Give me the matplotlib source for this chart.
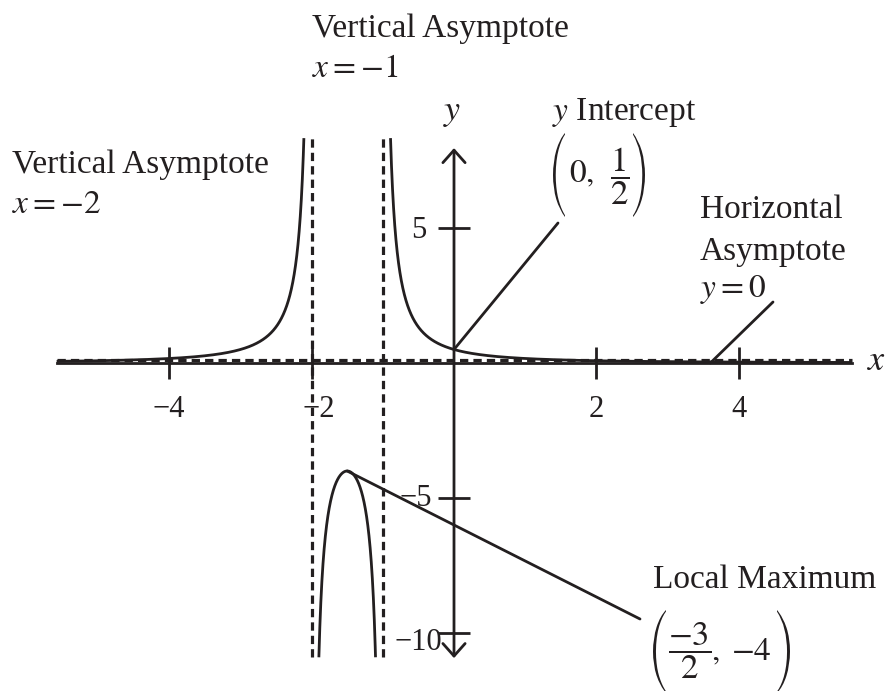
import numpy as np
import matplotlib
matplotlib.use("Agg")
import matplotlib.pyplot as plt
import matplotlib.transforms as mtransforms
from matplotlib.textpath import TextPath
from matplotlib.patches import PathPatch
from matplotlib.font_manager import FontProperties

plt.rcParams['font.family'] = ['Liberation Serif', 'DejaVu Serif']
plt.rcParams['mathtext.fontset'] = 'stix'

# ---------------- data ----------------
vertical_asymptotes = [-2, -1]          # poles of f(x) = 1 / ((x + 1)(x + 2))
horizontal_asymptote = 0
numerator = 1
x_ticks = [-4, -2, 2, 4]
x_tick_labels = ['\u22124', '\u22122', '2', '4']
y_ticks = [5, -5, -10]
y_tick_labels = ['5', '\u22125', '\u221210']
y_intercept = (0, 0.5)
local_max = (-1.5, -4)
x_domain = (-5.58, 5.59)
y_range = (-10.9, 8.33)

INK = '#231f20'
LW = 2.0
W, H = 886, 691

fig = plt.figure(figsize=(W / 100, H / 100), dpi=100)
ax = fig.add_axes([0, 0, 1, 1])
ax.set_xlim(-6.376, 6.067)
ax.set_ylim(-12.148, 13.444)
ax.axis('off')

# pixel (top-left origin) transform for annotation layout
T = mtransforms.Affine2D().scale(1, -1).translate(0, H)

# ---------------- curve ----------------
x = np.linspace(x_domain[0], x_domain[1], 400001)
den = (x - vertical_asymptotes[0]) * (x - vertical_asymptotes[1])
with np.errstate(divide='ignore', invalid='ignore'):
    y = numerator / den
y[(y > y_range[1]) | (y < y_range[0])] = np.nan
ax.plot(x, y, color=INK, lw=LW, solid_capstyle='butt', zorder=4)

# ---------------- axes ----------------
ax.plot(x_domain, [horizontal_asymptote] * 2, color=INK, lw=LW, zorder=3)
ax.annotate('', xy=(0, 7.96), xytext=(0, -10.93),
            arrowprops=dict(arrowstyle='<->,head_length=0.45,head_width=0.4',
                            lw=LW, color=INK, shrinkA=0, shrinkB=0,
                            mutation_scale=20), zorder=3)

# dashed asymptotes
DLW = 2.3
dash = (0, (2.6, 1.6))
for a in vertical_asymptotes:
    ax.plot([a, a], list(y_range), color=INK, lw=DLW, ls=dash, zorder=2)
up = mtransforms.offset_copy(ax.transData, fig=fig, x=0, y=2.5, units='dots')
ax.plot(x_domain, [horizontal_asymptote] * 2, color=INK, lw=DLW, ls=dash,
        transform=up, zorder=2)

# ticks
ax.plot(x_ticks, [0] * len(x_ticks), ls='none', marker='|', ms=23,
        mew=LW, color=INK, zorder=3)
ax.plot([0] * len(y_ticks), y_ticks, ls='none', marker='_', ms=23,
        mew=LW, color=INK, zorder=3)

FS = 24
MFS = 24
TFS = 22
for t, lab in zip(x_ticks, x_tick_labels):
    dx = 0.1 if t == -2 else 0.0
    ax.text(t + dx, -2.0, lab, fontsize=TFS, ha='center', va='baseline', color=INK)

y_lab_pos = {5: (-0.393, 4.63), -5: (-0.309, -5.30), -10: (-0.169, -10.63)}
for t, lab in zip(y_ticks, y_tick_labels):
    px, py = y_lab_pos[t]
    ax.text(px, py, lab, fontsize=TFS, ha='right', va='baseline', color=INK)


def ptext(xp, yp, s, size=FS, ha='left', va='baseline'):
    ax.text(xp, yp, s, fontsize=size, ha=ha, va=va, color=INK, transform=T)


def paren(ch, x0, x1, y0, y1):
    tp = TextPath((0, 0), ch, size=100, prop=FontProperties(family='STIXSizeThreeSym'))
    ext = tp.get_extents()
    tr = (mtransforms.Affine2D().translate(-ext.x0, -ext.y0)
          .scale((x1 - x0) / ext.width, (y1 - y0) / ext.height)
          .translate(x0, H - y1))
    fig.add_artist(PathPatch(tp, transform=tr, facecolor=INK, edgecolor='none'))


# axis labels
ptext(452, 120, r'$y$', size=26, ha='center')
ptext(877, 362, r'$x$', size=26, ha='center', va='center')

# ---------------- annotations ----------------
ptext(312, 37, 'Vertical Asymptote')
ptext(312, 77, r'$x = -1$', size=MFS)

ptext(12, 173, 'Vertical Asymptote')
ptext(12, 213, r'$x = -2$', size=MFS)

ptext(552, 120, r'$y$ Intercept')
paren('(', 553, 565, 133, 217)
ptext(569, 182, r'$0,$', size=MFS)
ptext(620, 176, r'$\dfrac{1}{2}$', size=MFS + 1, ha='center', va='center')
paren(')', 633, 645, 133, 217)
ax.annotate('', xy=y_intercept, xytext=(558, 223), textcoords=T,
            arrowprops=dict(arrowstyle='-', lw=LW, color=INK, shrinkA=0, shrinkB=0))

ptext(700, 218, 'Horizontal')
ptext(700, 260, 'Asymptote')
ptext(700, 297, r'$y = 0$', size=MFS)
ax.annotate('', xy=(3.6, horizontal_asymptote), xytext=(773, 302), textcoords=T,
            arrowprops=dict(arrowstyle='-', lw=LW, color=INK, shrinkA=0, shrinkB=0))

ptext(653, 588, 'Local Maximum')
paren('(', 653, 666, 610, 693)
ptext(690, 651, r'$\dfrac{-3}{2}$', size=MFS + 1, ha='center', va='center')
ptext(711, 660, r'$,$', size=MFS)
ptext(731, 660, r'$-4$', size=MFS)
paren(')', 777, 790, 610, 693)
ax.annotate('', xy=local_max, xytext=(640, 619), textcoords=T,
            arrowprops=dict(arrowstyle='-', lw=LW, color=INK, shrinkA=0, shrinkB=0))

fig.savefig('out.png', dpi=100)
